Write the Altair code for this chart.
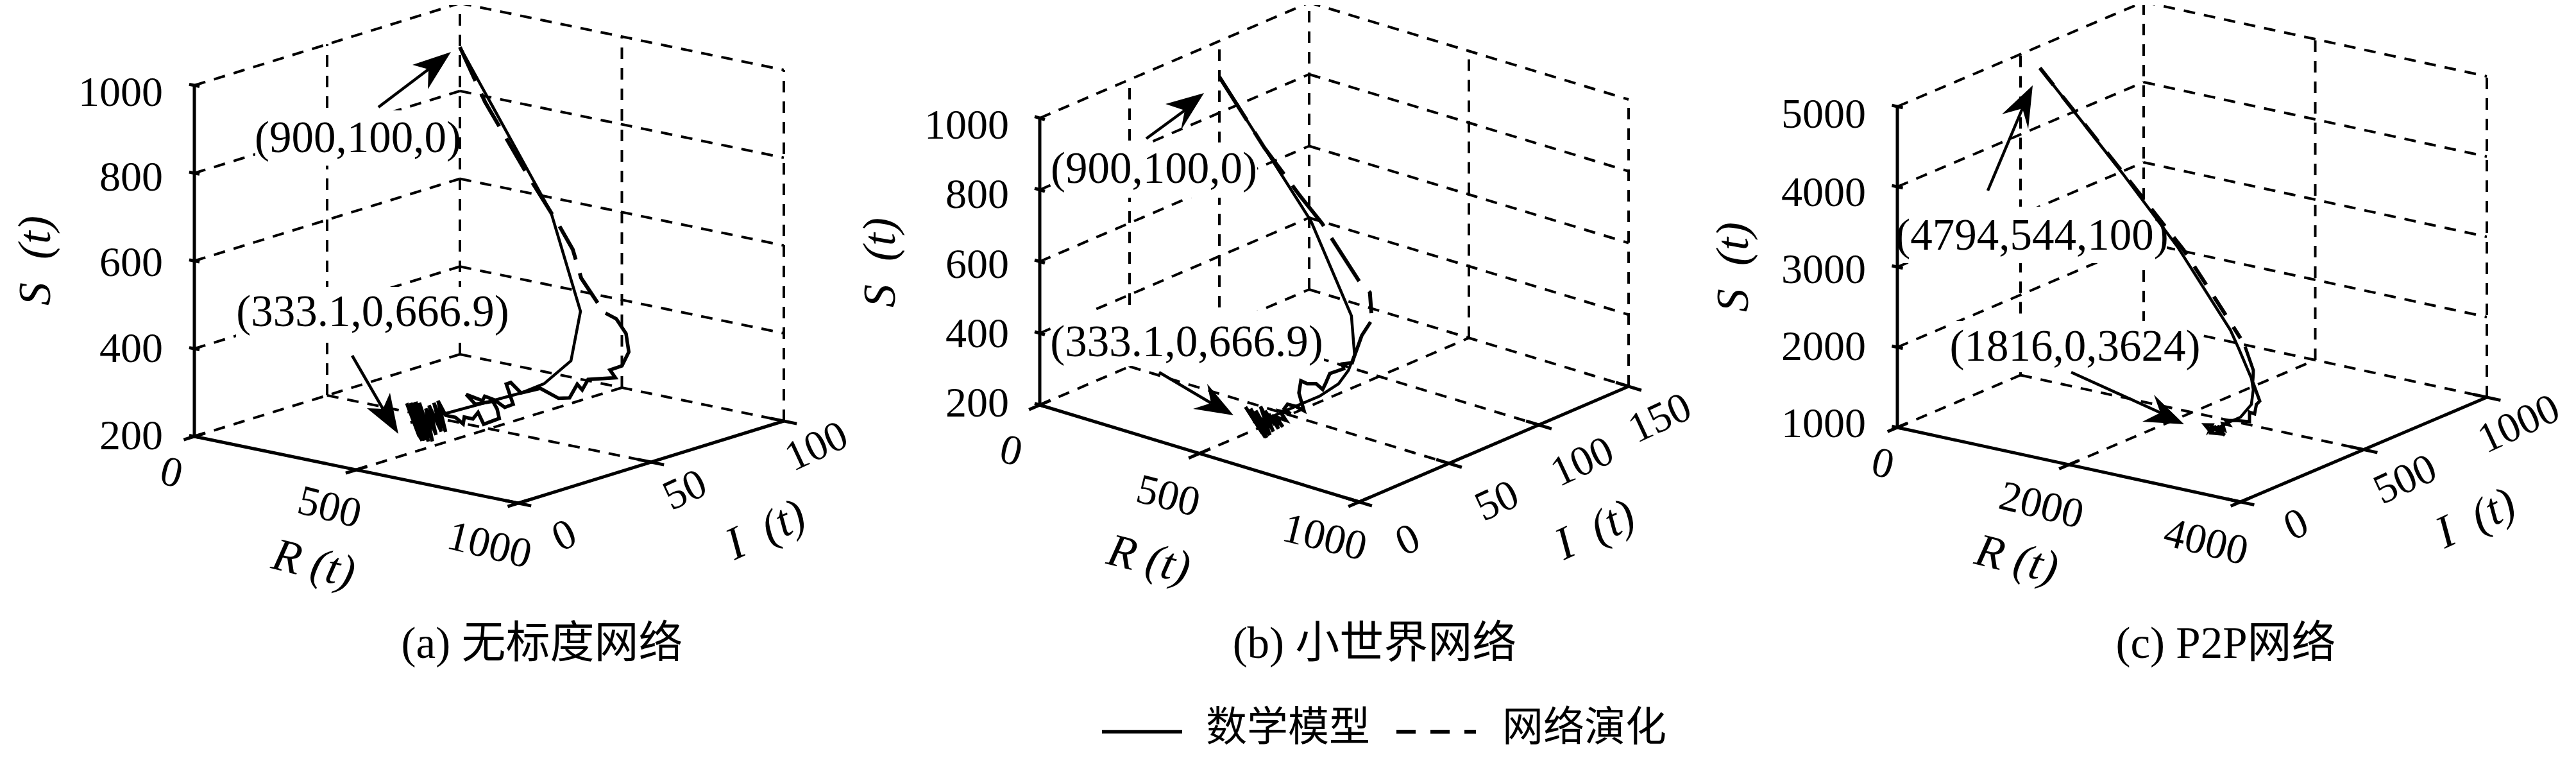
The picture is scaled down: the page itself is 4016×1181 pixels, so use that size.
import altair as alt
import pandas as pd

# ---- values: (R, I, S) trajectories ----
A_MODEL_R = [0, 323, 510, 597, 632, 642, 659, 667]
A_MODEL_I = [100, 94.9, 83.2, 69.0, 54.6, 44.7, 14.2, 0]
A_MODEL_S = [900, 582, 407, 334, 314, 313, 326, 333]
A_HEAD_R = [0, 106, 246, 350, 396, 450, 499]
A_HEAD_I = [100, 96.5, 95.1, 94.8, 94.2, 90.8, 91.0]
A_HEAD_S = [900, 798, 659, 555, 510, 459, 410]
A_TAIL_R = [520, 533, 562, 596, 619, 624, 639, 635, 653, 641, 664, 662, 639, 642, 621, 622, 661, 664, 648, 639, 646, 631, 651, 650, 665, 683, 689, 666, 677, 671, 683, 669, 663, 635, 693, 637, 691, 641, 696, 645, 707, 634, 706, 631, 703, 631, 699, 631, 694, 634, 703, 632, 698, 636, 703]
A_TAIL_I = [91.4, 93.9, 94.0, 90.9, 85.5, 80.4, 80.6, 70.8, 66.4, 66.0, 60.3, 56.4, 52.3, 44.7, 43.4, 41.6, 39.4, 35.9, 34.0, 31.4, 29.7, 25.4, 26.4, 33.1, 32.9, 31.5, 24.9, 25.6, 22.3, 19.8, 17.9, 16.7, 13.8, 14.3, 10.1, 12.5, 8.7, 10.2, 6.1, 8.5, 3.4, 7.4, 2.0, 6.4, 1.0, 4.5, 0, 3.0, 0, 3.6, 0, 5.2, 1.1, 6.3, 1.4]
A_TAIL_S = [389, 373, 344, 313, 295, 296, 280, 294, 281, 293, 276, 282, 309, 313, 336, 336, 300, 300, 318, 330, 324, 344, 323, 317, 302, 286, 286, 308, 301, 309, 299, 314, 323, 351, 297, 350, 300, 349, 298, 346, 290, 359, 292, 363, 296, 364, 301, 366, 306, 362, 297, 363, 301, 358, 296]

B_MODEL_R = [0, 313, 509, 584, 611, 632, 647, 654, 664, 667]
B_MODEL_I = [100, 95.4, 83.0, 71.4, 63.2, 54.0, 40.7, 28.6, 12.7, 0]
B_MODEL_S = [900, 592, 408, 345, 326, 314, 312, 317, 323, 333]
B_HEAD_R = [0, 153, 258, 321, 449, 473, 513]
B_HEAD_I = [100, 97.8, 98.7, 100.0, 98.3, 99.7, 93.4]
B_HEAD_S = [900, 749, 643, 579, 453, 427, 394]
B_TAIL_R = [529, 551, 592, 598, 596, 606, 609, 625, 636, 622, 618, 610, 632, 646, 668, 656, 649, 656, 668, 658, 678, 668, 689, 667, 691, 659, 682, 651, 694, 641, 699, 647, 703, 641, 702, 635, 692, 641, 700]
B_TAIL_I = [90.1, 81.3, 69.3, 67.6, 62.5, 61.4, 53.2, 48.1, 44.4, 43.2, 38.9, 36.9, 31.9, 30.5, 28.3, 25.8, 22.5, 19.4, 20.8, 16.6, 16.5, 12.9, 12.8, 11.4, 10.0, 10.3, 9.7, 9.6, 6.6, 8.9, 3.8, 5.2, 1.4, 3.4, 0.8, 1.6, 0.8, 1.4, 0.9]
B_TAIL_S = [381, 368, 339, 334, 341, 333, 338, 327, 320, 335, 343, 353, 336, 323, 304, 318, 329, 325, 311, 325, 305, 319, 298, 322, 299, 331, 308, 339, 299, 350, 297, 348, 296, 356, 297, 363, 307, 358, 299]

C_MODEL_R = [100, 1157, 1895, 2715, 2896, 3189, 3293, 3429, 3538, 3570, 3618, 3624]
C_MODEL_I = [544, 511, 478, 406, 377, 327, 298, 243, 161, 108, 39, 0]
C_MODEL_S = [4794, 3770, 3065, 2317, 2165, 1922, 1847, 1766, 1739, 1760, 1780, 1816]
C_HEAD_R = [100, 1145, 1925, 2504, 2803]
C_HEAD_I = [544, 515, 491, 443, 417]
C_HEAD_S = [4794, 3778, 3022, 2491, 2218]
C_TAIL_R = [2884, 3113, 3149, 3220, 3406, 3433, 3521, 3499, 3588, 3565, 3554, 3599, 3581, 3643, 3600, 3691, 3622, 3675, 3660, 3599, 3640, 3584, 3577, 3666, 3578]
C_TAIL_I = [407, 361, 348, 321, 285, 262, 224, 211, 180, 138, 95, 93, 73, 59, 45, 43, 27, 32, 0, 41, 0, 30, 2, 0, 9]
C_TAIL_S = [2147, 1964, 1940, 1897, 1747, 1742, 1693, 1728, 1670, 1734, 1788, 1746, 1784, 1736, 1792, 1705, 1788, 1730, 1779, 1798, 1803, 1824, 1860, 1775, 1851]

R_TICKS = {"a": [0, 500, 1000], "b": [0, 500, 1000], "c": [0, 2000, 4000]}
I_TICKS = {"a": [0, 50, 100], "b": [0, 50, 100, 150], "c": [0, 500, 1000]}
S_TICKS = {"a": [200, 400, 600, 800, 1000], "b": [200, 400, 600, 800, 1000], "c": [1000, 2000, 3000, 4000, 5000]}
CAPTIONS = {"a": "(a) 无标度网络", "b": "(b) 小世界网络", "c": "(c) P2P网络"}
LEGEND = ["数学模型", "网络演化"]
R_TITLE = "R\u00a0(t)"
I_TITLE = "I\u00a0\u00a0(t)"
S_TITLE = "S\u00a0\u00a0(t)"

# ---- layout: screen frame of each box ----
FRAME = {
    "a": dict(o=(303, 680), r=(505, 104), i=(414, -128), s=547),
    "b": dict(o=(1621, 631), r=(498, 151), i=(420, -180), s=447),
    "c": dict(o=(2958, 666), r=(535, 116), i=(384, -163), s=500),
}


def proj(p, R, I, S):
    f = FRAME[p]
    u = R / R_TICKS[p][-1]
    v = I / I_TICKS[p][-1]
    w = (S - S_TICKS[p][0]) / (S_TICKS[p][-1] - S_TICKS[p][0])
    return (f["o"][0] + u * f["r"][0] + v * f["i"][0], f["o"][1] + u * f["r"][1] + v * f["i"][1] - w * f["s"])


def seg(p, a, b):
    x, y = proj(p, *a)
    x2, y2 = proj(p, *b)
    return dict(x=x, y=y, x2=x2, y2=y2)


grid, axes = [], []
for p in "abc":
    Rs, Is, Ss = R_TICKS[p], I_TICKS[p], S_TICKS[p]
    R1, I1, S0, S1 = Rs[-1], Is[-1], Ss[0], Ss[-1]
    for s in Ss:
        grid.append(seg(p, (0, 0, s), (0, I1, s)))
        grid.append(seg(p, (0, I1, s), (R1, I1, s)))
        t = R1 * 0.016
        axes.append(seg(p, (-t, 0, s), (t, 0, s)))
    for i in Is[1:]:
        grid.append(seg(p, (0, i, S0), (0, i, S1)))
    for r in Rs[1:]:
        grid.append(seg(p, (r, I1, S0), (r, I1, S1)))
    for r in Rs[1:-1]:
        grid.append(seg(p, (r, 0, S0), (r, I1, S0)))
    for i in Is[1:-1]:
        grid.append(seg(p, (0, i, S0), (R1, i, S0)))
    axes.append(seg(p, (0, 0, S0), (0, 0, S1)))
    axes.append(seg(p, (0, 0, S0), (R1, 0, S0)))
    axes.append(seg(p, (R1, 0, S0), (R1, I1, S0)))
    for r in Rs:
        axes.append(seg(p, (r, -I1 * 0.04, S0), (r, I1 * 0.04, S0)))
    for i in Is:
        axes.append(seg(p, (R1 - R1 * 0.04, i, S0), (R1 + R1 * 0.04, i, S0)))

# tick label nudges from the tick position
S_OFF = {"a": ([-49] * 5, [0, 1, 3, 7, 12]), "b": ([-48] * 5, [-2, 2, 5, 8, 12]), "c": ([-49] * 5, [-5, 0, 5, 10, 13])}
R_OFF = {"a": [(-36, 57), (-42, 59), (-45, 66)], "b": [(-45, 72), (-49, 67), (-54, 56)], "c": [(-23, 57), (-43, 64), (-54, 63)]}
I_OFF = {"a": [(72, 51), (53, 44), (51, 40)], "b": [(76, 60), (75, 59), (68, 58), (49, 50)], "c": [(87, 36), (65, 47), (50, 42)]}

slabels, others = [], []
for p in "abc":
    Rs, Is, Ss = R_TICKS[p], I_TICKS[p], S_TICKS[p]
    for k, s in enumerate(Ss):
        x, y = proj(p, 0, 0, s)
        slabels.append(dict(x=x + S_OFF[p][0][k], y=y + S_OFF[p][1][k], t=str(s)))
    for k, r in enumerate(Rs):
        x, y = proj(p, r, 0, Ss[0])
        others.append(dict(x=x + R_OFF[p][k][0], y=y + R_OFF[p][k][1], t=str(r), a=14))
    for k, i in enumerate(Is):
        x, y = proj(p, Rs[-1], i, Ss[0])
        others.append(dict(x=x + I_OFF[p][k][0], y=y + I_OFF[p][k][1], t=str(i), a=335))

titles = [
    dict(x=489, y=879, t=R_TITLE, a=14), dict(x=1194, y=826, t=I_TITLE, a=335), dict(x=56, y=406, t=S_TITLE, a=270),
    dict(x=1791, y=872, t=R_TITLE, a=14), dict(x=2487, y=826, t=I_TITLE, a=335), dict(x=1373, y=409, t=S_TITLE, a=270),
    dict(x=3144, y=872, t=R_TITLE, a=14), dict(x=3860, y=808, t=I_TITLE, a=335), dict(x=2703, y=416, t=S_TITLE, a=270),
]
notes = [
    dict(x=558, y=216, t="(900,100,0)"), dict(x=581, y=487, t="(333.1,0,666.9)"),
    dict(x=1799, y=264, t="(900,100,0)"), dict(x=1850, y=534, t="(333.1,0,666.9)"),
    dict(x=3168, y=368, t="(4794,544,100)"), dict(x=3235, y=541, t="(1816,0,3624)"),
]
boxes = [
    dict(x=398, x2=712, y=172, y2=258), dict(x=368, x2=792, y=447, y2=532),
    dict(x=1638, x2=1960, y=222, y2=308), dict(x=1638, x2=2064, y=484, y2=570),
    dict(x=2958, x2=3378, y=322, y2=410), dict(x=3040, x2=3430, y=500, y2=580),
]
caps = [dict(x=845, y=1004, t=CAPTIONS["a"]), dict(x=2143, y=1004, t=CAPTIONS["b"]), dict(x=3470, y=1004, t=CAPTIONS["c"])]
legend_text = [dict(x=1880, y=1135, t=LEGEND[0]), dict(x=2342, y=1135, t=LEGEND[1])]
legend_solid = [dict(x=1718, x2=1843, y=1140, y2=1140)]
legend_dash = [dict(x=2177, x2=2301, y=1140, y2=1140)]

# arrows: tail, tip, two barbs, notch
ARROWS = [
    ((590, 167), (703, 81), (643, 101), (667, 139), (668, 108)),
    ((549, 554), (621, 676), (572, 636), (608, 612), (597, 637)),
    ((1787, 216), (1877, 145), (1817, 162), (1841, 203), (1847, 172)),
    ((1807, 580), (1923, 647), (1860, 637), (1882, 598), (1888, 628)),
    ((3099, 297), (3169, 133), (3121, 178), (3162, 201), (3153, 169)),
    ((3229, 580), (3405, 661), (3340, 657), (3358, 615), (3368, 643)),
]

sx = alt.Scale(domain=[8, 4008], nice=False, zero=False)
sy = alt.Scale(domain=[1173, 8], nice=False, zero=False)
X = alt.X("x:Q", scale=sx, axis=None)
Y = alt.Y("y:Q", scale=sy, axis=None)


def rules(rows, **kw):
    return alt.Chart(pd.DataFrame(rows)).mark_rule(strokeCap="butt", color="black", **kw).encode(
        x=X, y=Y, x2="x2:Q", y2="y2:Q")


def curve(p, R, I, S, **kw):
    pts = [proj(p, r, i, s) for r, i, s in zip(R, I, S)]
    df = pd.DataFrame({"R": R, "I": I, "S": S, "x": [q[0] for q in pts], "y": [q[1] for q in pts], "n": range(len(R))})
    return alt.Chart(df).mark_line(color="black", strokeJoin="miter", strokeCap="butt", clip=False, **kw).encode(
        x=X, y=Y, order="n:Q")


def text(rows, size=66, font="Liberation Serif", rotate=False, **kw):
    enc = dict(x=X, y=Y, text="t:N")
    if rotate:
        enc["angle"] = alt.Angle("a:Q", scale=None)
    return alt.Chart(pd.DataFrame(rows)).mark_text(fontSize=size, font=font, color="black", baseline="middle", **kw).encode(**enc)


layers = [rules(grid, strokeWidth=4, strokeDash=[18, 14])]
layers.append(alt.Chart(pd.DataFrame(boxes)).mark_rect(color="white").encode(x=X, y=Y, x2="x2:Q", y2="y2:Q"))
layers.append(rules(axes, strokeWidth=5))
layers += [
    curve("a", A_MODEL_R, A_MODEL_I, A_MODEL_S, strokeWidth=4.5),
    curve("a", A_HEAD_R, A_HEAD_I, A_HEAD_S, strokeWidth=6, strokeDash=[58, 22]),
    curve("a", A_TAIL_R, A_TAIL_I, A_TAIL_S, strokeWidth=5.5),
    curve("b", B_MODEL_R, B_MODEL_I, B_MODEL_S, strokeWidth=4.5),
    curve("b", B_HEAD_R, B_HEAD_I, B_HEAD_S, strokeWidth=6, strokeDash=[80, 22]),
    curve("b", B_TAIL_R, B_TAIL_I, B_TAIL_S, strokeWidth=5.5),
    curve("c", C_MODEL_R, C_MODEL_I, C_MODEL_S, strokeWidth=4.5),
    curve("c", C_HEAD_R, C_HEAD_I, C_HEAD_S, strokeWidth=6, strokeDash=[34, 22]),
    curve("c", C_TAIL_R, C_TAIL_I, C_TAIL_S, strokeWidth=5),
]
for tail, tip, b1, b2, nt in ARROWS:
    layers.append(rules([dict(x=tail[0], y=tail[1], x2=nt[0], y2=nt[1])], strokeWidth=4.5))
    d = " L".join(f"{c[0] - tip[0]},{c[1] - tip[1]}" for c in (b1, nt, b2))
    layers.append(alt.Chart(pd.DataFrame([dict(x=tip[0], y=tip[1])])).mark_point(
        shape="M0,0 L" + d + " Z", size=4, filled=True, color="black", opacity=1).encode(x=X, y=Y))
layers += [
    text(slabels, align="right"),
    text(others, rotate=True, align="center"),
    text(titles, size=72, rotate=True, align="center", fontStyle="italic"),
    text(notes, size=69, align="center"),
    text(caps, size=69, font="Liberation Serif, Noto Sans CJK SC", align="center"),
    text(legend_text, size=64, font="Noto Sans CJK SC", align="left"),
    rules(legend_solid, strokeWidth=5.5),
    rules(legend_dash, strokeWidth=6, strokeDash=[30, 23]),
]

chart = alt.layer(*layers).properties(
    width=4000, height=1165, padding=0, autosize=alt.AutoSizeParams(type="none"), background="white"
).configure_view(stroke=None)
chart.save("out.html", embed_options={"renderer": "svg", "actions": False})
